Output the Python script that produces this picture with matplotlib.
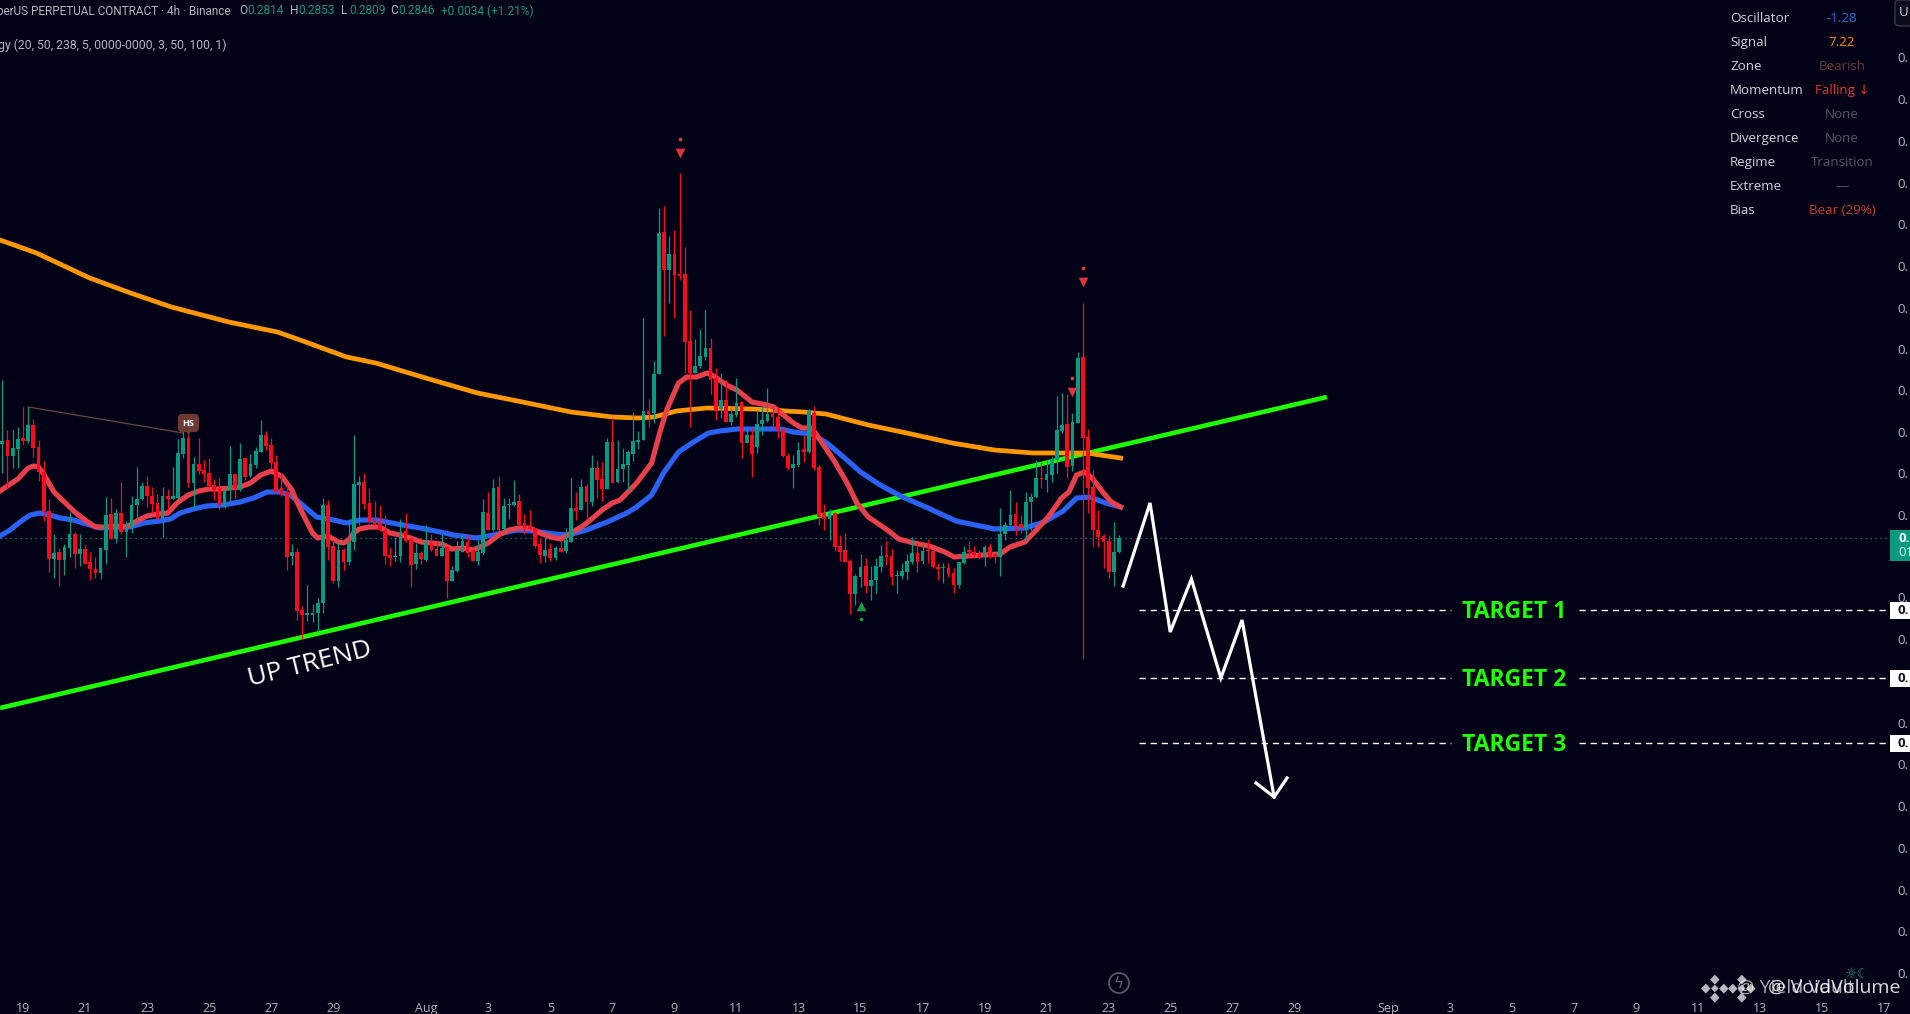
import numpy as np
import matplotlib
matplotlib.use("Agg")
import matplotlib.pyplot as plt
from matplotlib.patches import Rectangle, Ellipse, FancyBboxPatch

BG = '#020216'
UP = '#089981'
DOWN = '#fb0a1e'
LIME = '#1eff00'
GREY = '#b2b5be'

# candles, price x 10000, 4h bars
opens = [2939,2943,2927,2934,2945,2942,2958,2936,2911,2872,2824,2831,2823,2835,2849,2829,2834,2821,2814,2810,
 2833,2869,2844,2870,2851,2856,2878,2884,2897,2887,2880,2865,2887,2884,2885,2929,2945,2900,2919,2913,
 2910,2898,2895,2876,2893,2909,2893,2925,2907,2918,2931,2948,2938,2921,2895,2891,2827,2831,2773,2768,
 2768,2770,2780,2878,2837,2802,2833,2821,2841,2898,2901,2880,2864,2860,2853,2828,2826,2827,2852,2844,
 2819,2830,2823,2840,2834,2827,2836,2802,2812,2831,2841,2833,2822,2830,2870,2853,2896,2854,2878,2878,
 2882,2860,2857,2855,2839,2827,2834,2825,2835,2832,2841,2875,2873,2897,2881,2915,2904,2894,2941,2901,
 2914,2918,2929,2941,2943,2972,2970,3009,3151,3113,3129,3109,3109,3042,3010,3017,3026,3035,3005,2974,
 2983,2961,2968,2981,2940,2948,2936,2959,2962,2969,2966,2954,2927,2915,2918,2934,2931,2970,2916,2870,
 2864,2870,2837,2833,2822,2789,2806,2817,2797,2803,2816,2828,2827,2807,2807,2811,2821,2830,2822,2833,
 2832,2816,2815,2815,2810,2798,2820,2833,2831,2829,2826,2836,2829,2826,2849,2858,2869,2859,2855,2881,
 2886,2905,2903,2908,2923,2952,2959,2917,2960,3026,2946,2896,2853,2847,2842,2811,2831]
highs = [3003,2953,2953,2956,2976,2976,2964,2943,2922,2884,2849,2835,2839,2871,2851,2849,2839,2831,2826,2836,
 2886,2885,2874,2901,2862,2887,2916,2901,2907,2896,2889,2896,2894,2916,2944,2955,2948,2926,2945,2923,
 2925,2904,2905,2895,2937,2910,2940,2926,2929,2936,2963,2952,2945,2928,2910,2898,2839,2835,2777,2798,
 2779,2785,2885,2883,2843,2841,2835,2864,2948,2907,2910,2895,2882,2878,2868,2836,2846,2864,2870,2846,
 2840,2832,2858,2849,2843,2849,2837,2817,2842,2848,2848,2834,2843,2884,2891,2904,2907,2885,2885,2903,
 2889,2869,2873,2855,2845,2846,2840,2837,2842,2855,2905,2891,2904,2899,2928,2923,2921,2945,2965,2943,
 2935,2933,2971,2952,3065,2984,3022,3175,3177,3147,3153,3210,3136,3073,3044,3054,3073,3045,3015,3010,
 3003,2976,3005,2982,2956,2955,2973,2977,2995,2976,2976,2955,2930,2928,2941,2948,2974,2977,2918,2879,
 2874,2871,2848,2850,2824,2809,2829,2825,2817,2825,2838,2842,2834,2813,2820,2829,2846,2840,2839,2844,
 2833,2820,2820,2820,2815,2821,2837,2842,2837,2833,2838,2840,2830,2875,2861,2893,2881,2868,2891,2890,
 2923,2921,2923,2926,2987,2990,2989,2970,3031,3080,2954,2913,2873,2849,2848,2861,2848]
lows = [2910,2894,2915,2915,2938,2940,2926,2902,2862,2811,2805,2797,2808,2826,2815,2817,2819,2803,2805,2804,
 2819,2844,2840,2849,2826,2850,2858,2883,2876,2870,2863,2846,2872,2884,2884,2925,2896,2875,2909,2901,
 2896,2883,2874,2875,2882,2885,2892,2903,2906,2915,2931,2933,2915,2891,2887,2813,2818,2763,2744,2762,
 2761,2752,2770,2823,2800,2796,2813,2818,2833,2858,2874,2860,2858,2852,2819,2817,2822,2821,2841,2796,
 2814,2819,2822,2832,2827,2827,2785,2802,2811,2831,2826,2822,2818,2829,2853,2852,2852,2853,2864,2877,
 2857,2849,2853,2835,2820,2821,2822,2823,2831,2830,2841,2863,2873,2864,2877,2885,2882,2894,2900,2900,
 2901,2893,2922,2934,2943,2956,2960,3009,3047,3080,3065,3103,3010,2956,3010,3015,3023,2989,2963,2965,
 2961,2958,2966,2925,2940,2906,2930,2948,2961,2956,2945,2926,2913,2895,2916,2921,2930,2913,2858,2853,
 2843,2832,2822,2821,2769,2778,2796,2790,2783,2790,2811,2818,2798,2790,2804,2803,2819,2811,2819,2820,
 2815,2803,2800,2806,2790,2795,2819,2826,2825,2824,2817,2825,2820,2807,2843,2857,2848,2850,2843,2853,
 2885,2895,2891,2901,2910,2950,2905,2912,2960,2724,2870,2836,2836,2815,2805,2797,2830]
closes = [2942,2927,2935,2944,2942,2958,2935,2911,2872,2824,2830,2823,2836,2849,2829,2834,2819,2814,2810,2835,
 2868,2844,2870,2851,2857,2878,2884,2897,2887,2879,2864,2887,2884,2887,2930,2945,2900,2919,2912,2909,
 2897,2893,2878,2893,2909,2894,2924,2906,2919,2932,2948,2937,2920,2891,2888,2826,2831,2772,2768,2770,
 2770,2780,2878,2836,2802,2833,2821,2841,2899,2901,2879,2861,2859,2853,2827,2825,2827,2851,2842,2818,
 2830,2824,2841,2833,2827,2835,2802,2813,2833,2842,2830,2822,2831,2871,2853,2895,2853,2877,2879,2881,
 2858,2855,2854,2837,2828,2833,2825,2835,2831,2843,2875,2872,2896,2881,2915,2903,2894,2941,2900,2914,
 2919,2931,2942,2943,2972,2969,3009,3150,3113,3129,3108,3107,3041,3010,3017,3027,3035,3003,2973,2983,
 2961,2969,2980,2940,2948,2929,2959,2963,2969,2966,2953,2927,2915,2919,2933,2931,2973,2915,2866,2864,
 2870,2836,2831,2821,2789,2807,2816,2797,2803,2817,2827,2826,2806,2808,2812,2822,2830,2821,2832,2832,
 2816,2814,2816,2809,2798,2821,2831,2831,2828,2825,2836,2826,2826,2849,2858,2868,2857,2855,2881,2886,
 2905,2904,2909,2924,2953,2958,2916,2961,3025,2945,2895,2853,2846,2841,2811,2831,2845]

# moving averages, bar number and price x 10000
red_x = [-0.45,3,5,6,7,8,10,12,14,16,18,20,22,24,26,28,30,32,34,36,38,40,42,44,46,48,50,52,54,56,57,59,60,61,
 63,65,66,67,68,69,71,73,75,77,79,81,83,85,87,89,91,92,94,96,98,100,102,104,106,108,110,112,114,116,118,
 119.5,122.7,125.6,127.2,128.5,130.8,132.4,134.3,136.3,137.6,140.1,142.1,145,147.9,149.2,151.1,153,154.7,
 156.6,158.2,160.8,163.4,165.3,167.5,171.2,173.4,176.3,179.3,182.3,184.1,189.7,193,194.9,197.8,200,202.3,
 204.9,206.3,207.8,209.3,210.8,213,214.5,216.3]
red_y = [2892,2904,2915,2917,2916,2909,2891,2881,2871,2863,2856,2856,2857,2856,2862,2867,2869,2870,2881,2888,
 2892,2894,2894,2895,2896,2900,2908,2912,2907,2893,2881,2860,2850,2845,2847,2841,2840,2843,2850,2854,2856,
 2856,2850,2848,2845,2841,2840,2839,2834,2835,2833,2835,2840,2848,2853,2855,2855,2850,2846,2844,2850,2856,
 2864,2873,2880,2883,2900,2920,2951,2973,3000,3006,3006,3010,3007,2998,2993,2981,2978,2976,2968,2960,2955,
 2955,2943,2923,2900,2880,2866,2853,2844,2840,2837,2831,2826,2828,2829,2836,2841,2853,2866,2885,2891,2908,
 2911,2905,2890,2881,2876]
blue_x = [-0.45,1.5,3.4,5.4,7.3,9.2,11.2,13.7,16.3,18.9,21.5,24.7,27.3,30.5,32.5,34.4,37,39.5,42.8,46,48.6,
 51.2,53.7,55.7,57.6,60.8,64,66.6,69.2,72.4,76.3,80.8,84.7,87.3,91.8,95,99.5,102.7,106.6,109.5,113,117,
 120.8,122.7,125.6,127.9,130.8,133.7,136.6,138.8,142.1,146.6,150.5,153,156.6,159.5,162.7,166,169.8,174.1,
 178.6,184.5,191.9,197.8,201.5,205.2,207.8,210.4,213.4,216.3]
blue_y = [2847,2853,2861,2868,2870,2868,2865,2863,2859,2855,2856,2856,2860,2862,2864,2870,2874,2877,2878,2881,
 2885,2891,2891,2888,2880,2866,2863,2860,2863,2863,2859,2855,2851,2848,2845,2848,2853,2852,2849,2848,2853,
 2861,2870,2876,2888,2910,2931,2941,2950,2952,2954,2954,2954,2951,2949,2940,2926,2911,2898,2886,2876,2862,
 2854,2855,2861,2872,2885,2886,2880,2876]
orange_x = [-0.45,6.6,16.9,24.8,32.7,43.8,53.2,57.6,66.6,72.2,83.2,91.9,100.6,110,118,123,126,130.4,136.3,145.2,
 154.9,159.3,167.5,174.9,183.7,191.9,199.3,209.7,216.3]
orange_y = [3143,3130,3105,3090,3076,3061,3051,3043,3026,3020,3003,2990,2981,2971,2966,2965,2966,2972,2975,2974,
 2971,2969,2958,2950,2940,2933,2930,2930,2925]

trend_x = [-0.45, 256.2]
trend_y = [2675, 2986]

path_x = [216.8,222,225.9,230,235.7,239.8,246]
path_y = [2797,2880,2751,2804,2705,2763,2586]
head_x = [242.5,246,248.5]
head_y = [2600,2586,2605]

last_price = 2845
target_names = ['TARGET 1','TARGET 2','TARGET 3']
target_levels = [2773,2705,2640]

sell_x = [131,207,209]
sell_y = [3230,2991,3101]
sell_dot = [3244,3005,3115]
buy_x = [166]
buy_y = [2777]
buy_dot = [2764]

ytick_vals = [3326,3284,3242,3200,3159,3117,3075,3034,2993,2951,2910,2868,2786,2744,2660,2619,2577,2535,2493,2452,2410]
xtick_vals = [4,16,28,40,52,64,82,94,106,118,130,142,154,166,178,190,202,214,226,238,250,268,280,292,304,316,328,340,352,364]
xtick_txt = ['19','21','23','25','27','29','Aug','3','5','7','9','11','13','15','17','19','21','23','25','27','29',
 'Sep','3','5','7','9','11','13','15','17']

stat_names = ['Oscillator','Signal','Zone','Momentum','Cross','Divergence','Regime','Extreme','Bias']
stat_vals = ['-1.28','7.22','Bearish','Falling ↓','None','None','Transition','—','Bear (29%)']
stat_cols = ['#1c6fd8','#ff8a00','#6b3a36','#e5392f','#555866','#555866','#555866','#555866','#c8402c']

opens, highs, lows, closes = [np.array(a)/1e4 for a in (opens, highs, lows, closes)]
bars = np.arange(len(opens))

plt.rcParams['font.family'] = ['Open Sans', 'DejaVu Sans']
W, H = 1910, 1014
fig = plt.figure(figsize=(W/100, H/100), dpi=100, facecolor=BG)
ax = fig.add_axes([0, 0, 1, 1], facecolor=BG)
ax.set_xlim(-0.45, 369)
ax.set_ylim(0.2369, 0.3383)
for s in ax.spines.values():
    s.set_visible(False)

def ptxt(x, y, s, **kw):
    # text placed by screen pixel
    kw.setdefault('va', 'center')
    fig.text(x/W, 1-y/H, s, **kw)

def pbox(x, y, w, h, col):
    fig.add_artist(Rectangle((x/W, 1-(y+h)/H), w/W, h/H, transform=fig.transFigure, color=col, lw=0, zorder=5))

# ma lines and trend go under the candles
ax.plot(trend_x, np.array(trend_y)/1e4, color=LIME, lw=3.3, solid_capstyle='butt', zorder=2)
ax.plot(orange_x, np.array(orange_y)/1e4, color='#ff9800', lw=3.4, zorder=2.1)
ax.plot(blue_x, np.array(blue_y)/1e4, color='#2962f5', lw=3.7, zorder=2.2)
ax.plot(red_x, np.array(red_y)/1e4, color='#e8404a', lw=3.7, zorder=2.3)

up = closes >= opens
cols = np.where(up, UP, DOWN)
ax.vlines(bars, lows, highs, colors=cols, lw=0.9, zorder=3)
ax.bar(bars, np.abs(closes-opens), bottom=np.minimum(opens, closes), width=0.72, color=cols, lw=0, zorder=3)

ax.axhline(last_price/1e4, xmax=1890/W, color=UP, lw=0.9, ls=(0, (1, 3)), zorder=1)

# sell / buy marks
ax.scatter(sell_x, np.array(sell_y)/1e4, marker='v', s=48, color='#e5323a', lw=0, zorder=4)
ax.scatter(sell_x, np.array(sell_dot)/1e4, marker='o', s=7, color='#d8402f', lw=0, zorder=4)
ax.scatter(buy_x, np.array(buy_y)/1e4, marker='^', s=48, color='#1b9e3c', lw=0, zorder=4)
ax.scatter(buy_x, np.array(buy_dot)/1e4, marker='o', s=7, color='#1b9e3c', lw=0, zorder=4)

# head and shoulders mark
ax.plot([5, 35], [0.2976, 0.2950], color='#6a4540', lw=0.9, zorder=2)
ax.text(36, 0.2960, 'HS', color='white', fontsize=6.5, fontweight='bold', ha='center', va='center', zorder=6,
        bbox=dict(boxstyle='round,pad=0.45', fc='#6d3a33', ec='#6d3a33', lw=0.8))
ax.scatter([36], [0.2952], marker='v', s=38, color='#6d3a33', lw=0, zorder=5)

# forecast
ax.plot(path_x, np.array(path_y)/1e4, color='white', lw=2.3, solid_joinstyle='miter', zorder=5)
ax.plot(head_x, np.array(head_y)/1e4, color='white', lw=2.3, solid_joinstyle='miter', zorder=5)

ax.text(59.5, 0.2719, 'UP TREND', color='white', fontsize=19, rotation=14, ha='center', va='center', zorder=5)

for name, lv in zip(target_names, target_levels):
    ax.hlines(lv/1e4, 219.9, 280.2, color='white', lw=1.0, ls=(0, (4.5, 3.5)), zorder=2)
    ax.hlines(lv/1e4, 305, 365.2, color='white', lw=1.0, ls=(0, (4.5, 3.5)), zorder=2)
    ax.text(292.5, (lv-2)/1e4, name, color=LIME, fontsize=16.5, fontweight='bold', ha='center', va='center', zorder=5)

# axis labels sit inside the picture
ax.set_yticks(np.array(ytick_vals)/1e4)
ax.set_yticklabels(['0.']*len(ytick_vals))
ax.yaxis.tick_right()
ax.tick_params(axis='y', length=0, pad=-8.8, labelsize=9.5, labelcolor=GREY)
ax.set_xticks(xtick_vals)
ax.set_xticklabels(xtick_txt)
ax.tick_params(axis='x', length=0, pad=-8.6, labelsize=9, labelcolor=GREY)
for t in ax.get_yticklabels():
    t.set_ha('left')

# price tags on the scale
for lv_y in (602, 670, 735):
    pbox(1890, lv_y, 20, 17, 'white')
    ptxt(1897, lv_y+8.5, '0.', color='#131722', fontsize=9.5, fontweight='bold', zorder=6)
pbox(1890, 530, 20, 31, UP)
ptxt(1898, 538, '0.', color='white', fontsize=9.5, fontweight='bold', zorder=6)
ptxt(1898, 553, '01', color='#d6f0ea', fontsize=9.5, zorder=6)

# header
hdr = '#b2b5be'
ptxt(-3, 11, 'perUS PERPETUAL CONTRACT · 4h · Binance', color=hdr, fontsize=8.5, family='Roboto')
for x, letter, val in zip([239, 290, 341, 390], 'OHLC', ['0.2814', '0.2853', '0.2809', '0.2846']):
    ptxt(x, 11, letter, color=hdr, fontsize=8.6, family='Roboto')
    ptxt(x+8.5, 11, val, color=UP, fontsize=8.6, family='Roboto')
ptxt(441, 11, '+0.0034 (+1.21%)', color=UP, fontsize=8.6, family='Roboto')
ptxt(-2, 45, 'gy (20, 50, 238, 5, 0000-0000, 3, 50, 100, 1)', color=hdr, fontsize=8.8, family='Roboto')

# status table
for k, (nm, val, c) in enumerate(zip(stat_names, stat_vals, stat_cols)):
    ptxt(1730, 19+23.9*k, nm, color='#d1d4dc', fontsize=9.6)
    ptxt(1842, 19+23.9*k, val, color=c, fontsize=9.6, ha='center')

# top right button
fig.add_artist(FancyBboxPatch((1895/W, 1-26/H), 30/W, 26/H, boxstyle='round,pad=0,rounding_size=0.003',
                              transform=fig.transFigure, fc='#0c0d1c', ec='#3a3d4a', lw=0.9, zorder=5))
ptxt(1899, 13, 'U', color='#d1d4dc', fontsize=9.5, zorder=6)

# lightning button
fig.add_artist(Ellipse((1119/W, 1-983/H), 20/W, 20/H, transform=fig.transFigure, fc='none', ec='#5b5e68', lw=1.2))
ptxt(1119, 983, 'ϟ', color='#5b5e68', fontsize=11, ha='center', family='DejaVu Sans')

# sun and moon icon, then the two watermarks on top of one another
ptxt(1857, 974, '☼☾', color=UP, fontsize=10, ha='center', family='DejaVu Sans')
for xc in (1715, 1742):
    for dx, dy in ((0, 0), (-9, 0), (9, 0), (0, -9), (0, 9)):
        ptxt(xc+dx, 988+dy, '◆', color='#d8d8dc', fontsize=9 if dx or dy else 7, ha='center',
             family='DejaVu Sans', alpha=0.85)
ptxt(1737, 988, '@ Yield Vault', color='white', fontsize=14, alpha=0.65, zorder=7)
ptxt(1768, 988, '@ VoidVolume', color='white', fontsize=14, alpha=0.85, zorder=7)

fig.savefig('out.png', dpi=100, facecolor=BG)
